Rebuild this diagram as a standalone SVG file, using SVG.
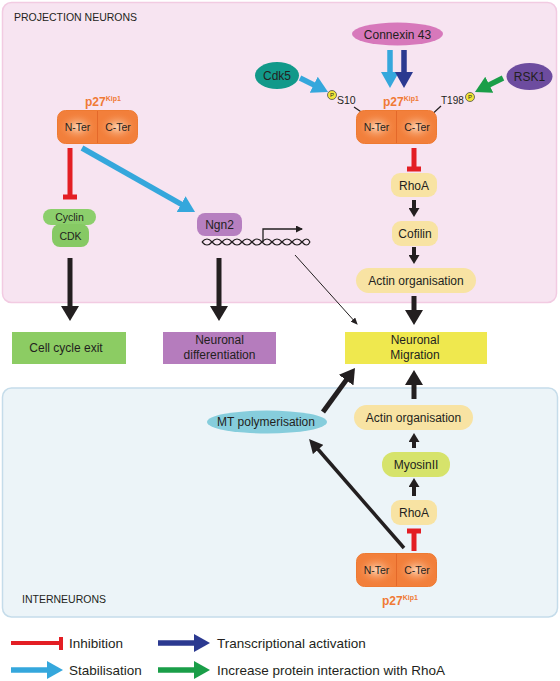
<svg xmlns="http://www.w3.org/2000/svg" width="560" height="681" viewBox="0 0 560 681">
<style>
  text { font-family: "Liberation Sans", Arial, sans-serif; fill: #231f20; }
  .t12 { font-size: 12px; }
  .leg { font-size: 13.5px; }
  .mid { text-anchor: middle; }
  .hdr { font-size: 10.5px; }
  .ter { font-size: 10.5px; text-anchor: middle; }
  .sm { font-size: 10.5px; }
  .p27 { font-size: 12px; font-weight: bold; fill: #f07a35; }
  .sup { font-size: 7px; }
  .pill { fill: #f8e3a3; }
  .blk { stroke: #231f20; fill: none; }
  .big { stroke-width: 5; marker-end: url(#ahBig); }
  .med { stroke-width: 4; marker-end: url(#ahMed); }
  .diag { stroke-width: 3.5; marker-end: url(#ahDiag); }
  .inh { stroke: #e31e24; stroke-width: 5; fill: none; }
  .lb { stroke: #35a7dc; stroke-width: 5.5; fill: none; marker-end: url(#ahLB); }
  .db { stroke: #2b3990; stroke-width: 5.5; fill: none; marker-end: url(#ahDB); }
  .gr { stroke: #1a9e48; stroke-width: 5.5; fill: none; marker-end: url(#ahGR); }
  .pcirc { fill: #f2e53a; stroke: #4d4d4d; stroke-width: 0.8; }
  .ptxt { font-size: 6px; text-anchor: middle; }
  .dna { stroke: #231f20; stroke-width: 1.2; fill: none; }
</style>
<defs>
  <marker id="ahBig" markerUnits="userSpaceOnUse" viewBox="0 0 15 18" markerWidth="15" markerHeight="18" refX="5" refY="9" orient="auto"><path d="M0,0 L15,9 L0,18 z" fill="#231f20"/></marker>
  <marker id="ahMed" markerUnits="userSpaceOnUse" viewBox="0 0 9 11" markerWidth="9" markerHeight="11" refX="3" refY="5.5" orient="auto"><path d="M0,0 L9,5.5 L0,11 z" fill="#231f20"/></marker>
  <marker id="ahDiag" markerUnits="userSpaceOnUse" viewBox="0 0 14 14" markerWidth="14" markerHeight="14" refX="4" refY="7" orient="auto"><path d="M0,0 L14,7 L0,14 z" fill="#231f20"/></marker>
  <marker id="ahThin" markerUnits="userSpaceOnUse" viewBox="0 0 7 6" markerWidth="7" markerHeight="6" refX="6" refY="3" orient="auto"><path d="M0,0 L7,3 L0,6 z" fill="#231f20"/></marker>
  <marker id="ahProm" markerUnits="userSpaceOnUse" viewBox="0 0 7 7" markerWidth="7" markerHeight="7" refX="6" refY="3.5" orient="auto"><path d="M0,0 L7,3.5 L0,7 z" fill="#231f20"/></marker>
  <marker id="ahLB" markerUnits="userSpaceOnUse" viewBox="0 0 16 18" markerWidth="16" markerHeight="18" refX="4" refY="9" orient="auto"><path d="M0,0 L16,9 L0,18 z" fill="#35a7dc"/></marker>
  <marker id="ahDB" markerUnits="userSpaceOnUse" viewBox="0 0 16 18" markerWidth="16" markerHeight="18" refX="4" refY="9" orient="auto"><path d="M0,0 L16,9 L0,18 z" fill="#2b3990"/></marker>
  <marker id="ahGR" markerUnits="userSpaceOnUse" viewBox="0 0 16 18" markerWidth="16" markerHeight="18" refX="4" refY="9" orient="auto"><path d="M0,0 L16,9 L0,18 z" fill="#1a9e48"/></marker>
  <radialGradient id="glow" cx="0.5" cy="0.5" r="0.5">
    <stop offset="0" stop-color="#fdd5b5" stop-opacity="1"/>
    <stop offset="1" stop-color="#f27f3b" stop-opacity="0"/>
  </radialGradient>
  <symbol id="p27shape" viewBox="0 0 81 34" width="81" height="34">
    <rect x="0.5" y="0.5" width="80" height="33" rx="8" fill="#f27f3b" stroke="#ee7a32"/>
    <ellipse cx="20.5" cy="17" rx="20" ry="15" fill="url(#glow)"/>
    <ellipse cx="60.5" cy="17" rx="20" ry="15" fill="url(#glow)"/>
    <line x1="40.5" y1="1" x2="40.5" y2="33" stroke="#e4682a" stroke-width="1"/>
  </symbol>
</defs>

<!-- panels -->
<g id="panel-projection">
  <rect x="2.5" y="2.5" width="554" height="300" rx="9" fill="#f7e4f1" stroke="#f2cbe2" stroke-width="1.5"/>
  <text class="hdr" x="14" y="21">PROJECTION NEURONS</text>
</g>
<g id="panel-interneurons">
  <rect x="2.5" y="388" width="555" height="229" rx="9" fill="#ecf4f8" stroke="#c5dcea" stroke-width="1.5"/>
  <text class="hdr" x="22" y="603">INTERNEURONS</text>
</g>

<!-- connectors -->
<g id="connectors">
  <!-- left p27 -->
  <path class="inh" d="M70,148 V197 M63,197 H77"/>
  <line class="lb" stroke-width="4.5" x1="82" y1="148" x2="184.6" y2="206.1"/>
  <line class="blk big" x1="70" y1="258" x2="70" y2="311"/>
  <line class="blk big" x1="219" y1="258" x2="219" y2="311"/>
  <!-- DNA & promoter -->
  <path class="dna" d="M202,242 q5,-6 10,0 t10,0 t10,0 t10,0 t10,0 t10,0 t10,0 t10,0 t10,0 t10,0 t8,0"/>
  <path class="dna" d="M202,242 q5,6 10,0 t10,0 t10,0 t10,0 t10,0 t10,0 t10,0 t10,0 t10,0 t10,0 t8,0"/>
  <path d="M263,242 V229 H302" stroke="#231f20" stroke-width="1.3" fill="none" marker-end="url(#ahProm)"/>
  <line x1="295" y1="255" x2="357" y2="324" stroke="#231f20" stroke-width="1" marker-end="url(#ahThin)"/>
  <!-- right p27 inputs -->
  <line class="lb" x1="390" y1="50" x2="390" y2="76"/>
  <line class="db" x1="404" y1="50" x2="404" y2="76"/>
  <line class="lb" x1="300" y1="78" x2="317.3" y2="86.6"/>
  <line class="gr" x1="503" y1="78" x2="485.7" y2="86.6"/>
  <line x1="354" y1="107" x2="362" y2="112.5" stroke="#231f20" stroke-width="1.2"/>
  <line x1="434" y1="112.5" x2="441" y2="106" stroke="#231f20" stroke-width="1.2"/>
  <!-- right chain -->
  <path class="inh" d="M414,148 V169 M407,169 H421"/>
  <line class="blk med" x1="414" y1="200" x2="414" y2="211"/>
  <line class="blk med" x1="414" y1="247" x2="414" y2="258"/>
  <line class="blk big" x1="414" y1="296" x2="414" y2="315"/>
  <!-- interneurons -->
  <line class="blk big" x1="414" y1="399" x2="414" y2="380"/>
  <line class="blk big" stroke-width="4.5" x1="323" y1="412" x2="349.1" y2="376.1"/>
  <line class="blk med" x1="414" y1="448" x2="414" y2="439"/>
  <line class="blk med" x1="414" y1="496" x2="414" y2="484"/>
  <path class="inh" d="M414,551 V531 M407,531 H421"/>
  <line class="blk diag" x1="404" y1="548" x2="315.6" y2="446.5"/>
</g>

<!-- projection neurons nodes -->
<g id="p27-left">
  <use href="#p27shape" x="57" y="110"/>
  <text class="p27" x="85" y="106">p27<tspan class="sup" dy="-5">Kip1</tspan></text>
  <text class="ter" x="77.5" y="131">N-Ter</text>
  <text class="ter" x="118" y="131">C-Ter</text>
</g>
<g id="cyclin-cdk">
  <rect x="43" y="209" width="53" height="16" rx="8" fill="#8ccf6c"/>
  <rect x="52" y="224" width="37" height="23" rx="8" fill="#86c964"/>
  <text class="sm mid" x="69.5" y="221">Cyclin</text>
  <text class="sm mid" x="70.5" y="240">CDK</text>
</g>
<g id="ngn2">
  <rect x="197" y="213" width="45" height="23" rx="8" fill="#b67fc0"/>
  <text class="t12 mid" x="219.5" y="229">Ngn2</text>
</g>
<g id="connexin43">
  <ellipse cx="397.5" cy="34" rx="45.5" ry="11.5" fill="#d778bb"/>
  <text class="t12 mid" x="397.5" y="38.5">Connexin 43</text>
</g>
<g id="cdk5">
  <ellipse cx="277" cy="75.5" rx="22" ry="13.5" fill="#12998a"/>
  <text class="t12 mid" x="277" y="80">Cdk5</text>
</g>
<g id="rsk1">
  <ellipse cx="529.5" cy="76.5" rx="23" ry="13.5" fill="#6d4c9f"/>
  <text class="t12 mid" x="529.5" y="81">RSK1</text>
</g>
<g id="phospho-s10">
  <circle class="pcirc" cx="332" cy="95" r="4.5"/>
  <text class="ptxt" x="332" y="97.2">P</text>
  <text class="sm" x="337" y="104">S10</text>
</g>
<g id="phospho-t198">
  <circle class="pcirc" cx="470" cy="97" r="4.5"/>
  <text class="ptxt" x="470" y="99.2">P</text>
  <text x="441" y="104" font-size="10">T198</text>
</g>
<g id="p27-right">
  <use href="#p27shape" x="356" y="110"/>
  <text class="p27" x="383" y="106">p27<tspan class="sup" dy="-5">Kip1</tspan></text>
  <text class="ter" x="376.5" y="131">N-Ter</text>
  <text class="ter" x="417" y="131">C-Ter</text>
</g>
<g id="rhoa-top">
  <rect class="pill" x="391" y="173" width="46" height="24" rx="9"/>
  <text class="t12 mid" x="414" y="189.5">RhoA</text>
</g>
<g id="cofilin">
  <rect class="pill" x="392" y="221" width="46" height="25" rx="9"/>
  <text class="t12 mid" x="415" y="238">Cofilin</text>
</g>
<g id="actin-top">
  <rect class="pill" x="356" y="268" width="120" height="25" rx="12.5"/>
  <text class="t12 mid" x="416" y="285">Actin organisation</text>
</g>

<!-- outcomes -->
<g id="cell-cycle-exit">
  <rect x="12" y="332" width="114" height="32" fill="#8ccc63"/>
  <text class="t12 mid" x="66" y="352">Cell cycle exit</text>
</g>
<g id="neuronal-differentiation">
  <rect x="163" y="332" width="113" height="32" fill="#b57cbd"/>
  <text class="t12 mid" x="219.5" y="344">Neuronal</text>
  <text class="t12 mid" x="219.5" y="359">differentiation</text>
</g>
<g id="neuronal-migration">
  <rect x="345" y="332" width="142" height="32" fill="#efe84e"/>
  <text class="t12 mid" x="415" y="344">Neuronal</text>
  <text class="t12 mid" x="415" y="359">Migration</text>
</g>

<!-- interneuron nodes -->
<g id="mt-polymerisation">
  <ellipse cx="267" cy="422" rx="60" ry="11.5" fill="#86cddc"/>
  <text class="t12 mid" x="266" y="426">MT polymerisation</text>
</g>
<g id="actin-bottom">
  <rect class="pill" x="354" y="405" width="119" height="25" rx="12.5"/>
  <text class="t12 mid" x="413.5" y="422">Actin organisation</text>
</g>
<g id="myosin2">
  <rect x="382" y="452" width="68" height="25" rx="12" fill="#d6e36b"/>
  <text class="t12 mid" x="416" y="469">MyosinII</text>
</g>
<g id="rhoa-bottom">
  <rect class="pill" x="391" y="500" width="46" height="25" rx="9"/>
  <text class="t12 mid" x="414" y="517">RhoA</text>
</g>
<g id="p27-bottom">
  <use href="#p27shape" x="356" y="553"/>
  <text class="ter" x="376.5" y="574">N-Ter</text>
  <text class="ter" x="417" y="574">C-Ter</text>
  <text class="p27" x="382" y="605">p27<tspan class="sup" dy="-5">Kip1</tspan></text>
</g>

<!-- legend -->
<g id="legend">
  <path d="M11,643 H61 M61,637 V650" stroke="#e31e24" stroke-width="4" fill="none"/>
  <text class="leg" x="69" y="648">Inhibition</text>
  <line class="lb" stroke-width="5" x1="11" y1="670" x2="51" y2="670"/>
  <text class="leg" x="69" y="675">Stabilisation</text>
  <line class="db" stroke-width="5" x1="158" y1="643" x2="198" y2="643"/>
  <text class="leg" x="217" y="648">Transcriptional activation</text>
  <line class="gr" stroke-width="5" x1="158" y1="670" x2="198" y2="670"/>
  <text class="leg" x="217" y="675">Increase protein interaction with RhoA</text>
</g>
</svg>
